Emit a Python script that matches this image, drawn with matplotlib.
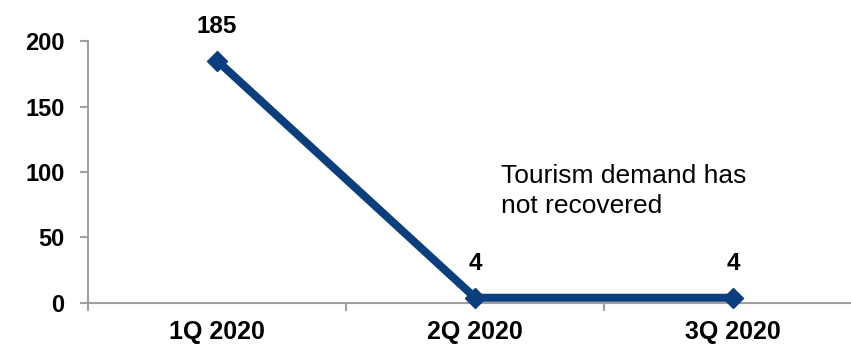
import matplotlib
matplotlib.use("Agg")
import matplotlib.pyplot as plt
from matplotlib.ticker import FixedLocator

# quarterly values
quarters = ["1Q 2020", "2Q 2020", "3Q 2020"]
values = [185, 4, 4]
y_ticks = [0, 50, 100, 150, 200]
note = "Tourism demand has\nnot recovered"

LINE = "#0b3e7c"
AXIS = "#a0a0a0"

plt.rcParams["font.family"] = ["Liberation Sans", "DejaVu Sans"]

fig = plt.figure(figsize=(8.51, 3.44), dpi=100)
ax = fig.add_axes([0.1034, 0.1192, 0.91, 0.7616])

x = list(range(len(quarters)))
ax.plot(x, values, color=LINE, lw=5.8, marker="D", ms=10.5, mfc=LINE, mec=LINE,
        clip_on=False, zorder=3)

for xi, v in zip(x, values):
    ax.annotate(str(v), (xi, v), xytext=(0, 20), textcoords="offset points",
                ha="center", va="baseline", fontsize=17.5, fontweight="bold")

ax.text(1.1, 106, note, ha="left", va="top", fontsize=19, linespacing=1.3)

ax.set_xlim(-0.5, len(quarters) - 0.5)
ax.set_ylim(0, 200)
ax.set_yticks(y_ticks)
ax.set_xticks(x)
ax.set_xticklabels(quarters, fontsize=18, fontweight="bold")
ax.xaxis.set_minor_locator(FixedLocator([i - 0.5 for i in range(len(quarters) + 1)]))
for lab in ax.get_yticklabels():
    lab.set_fontsize(17)
    lab.set_fontweight("bold")

ax.tick_params(axis="x", which="major", length=0, pad=12)
ax.tick_params(axis="x", which="minor", length=6, width=1.5, color=AXIS)
ax.tick_params(axis="y", length=6, width=1.5, color=AXIS, pad=11)

for side in ["top", "right"]:
    ax.spines[side].set_visible(False)
for side in ["left", "bottom"]:
    ax.spines[side].set_color(AXIS)
    ax.spines[side].set_linewidth(1.5)

fig.savefig("out.png", dpi=100)
